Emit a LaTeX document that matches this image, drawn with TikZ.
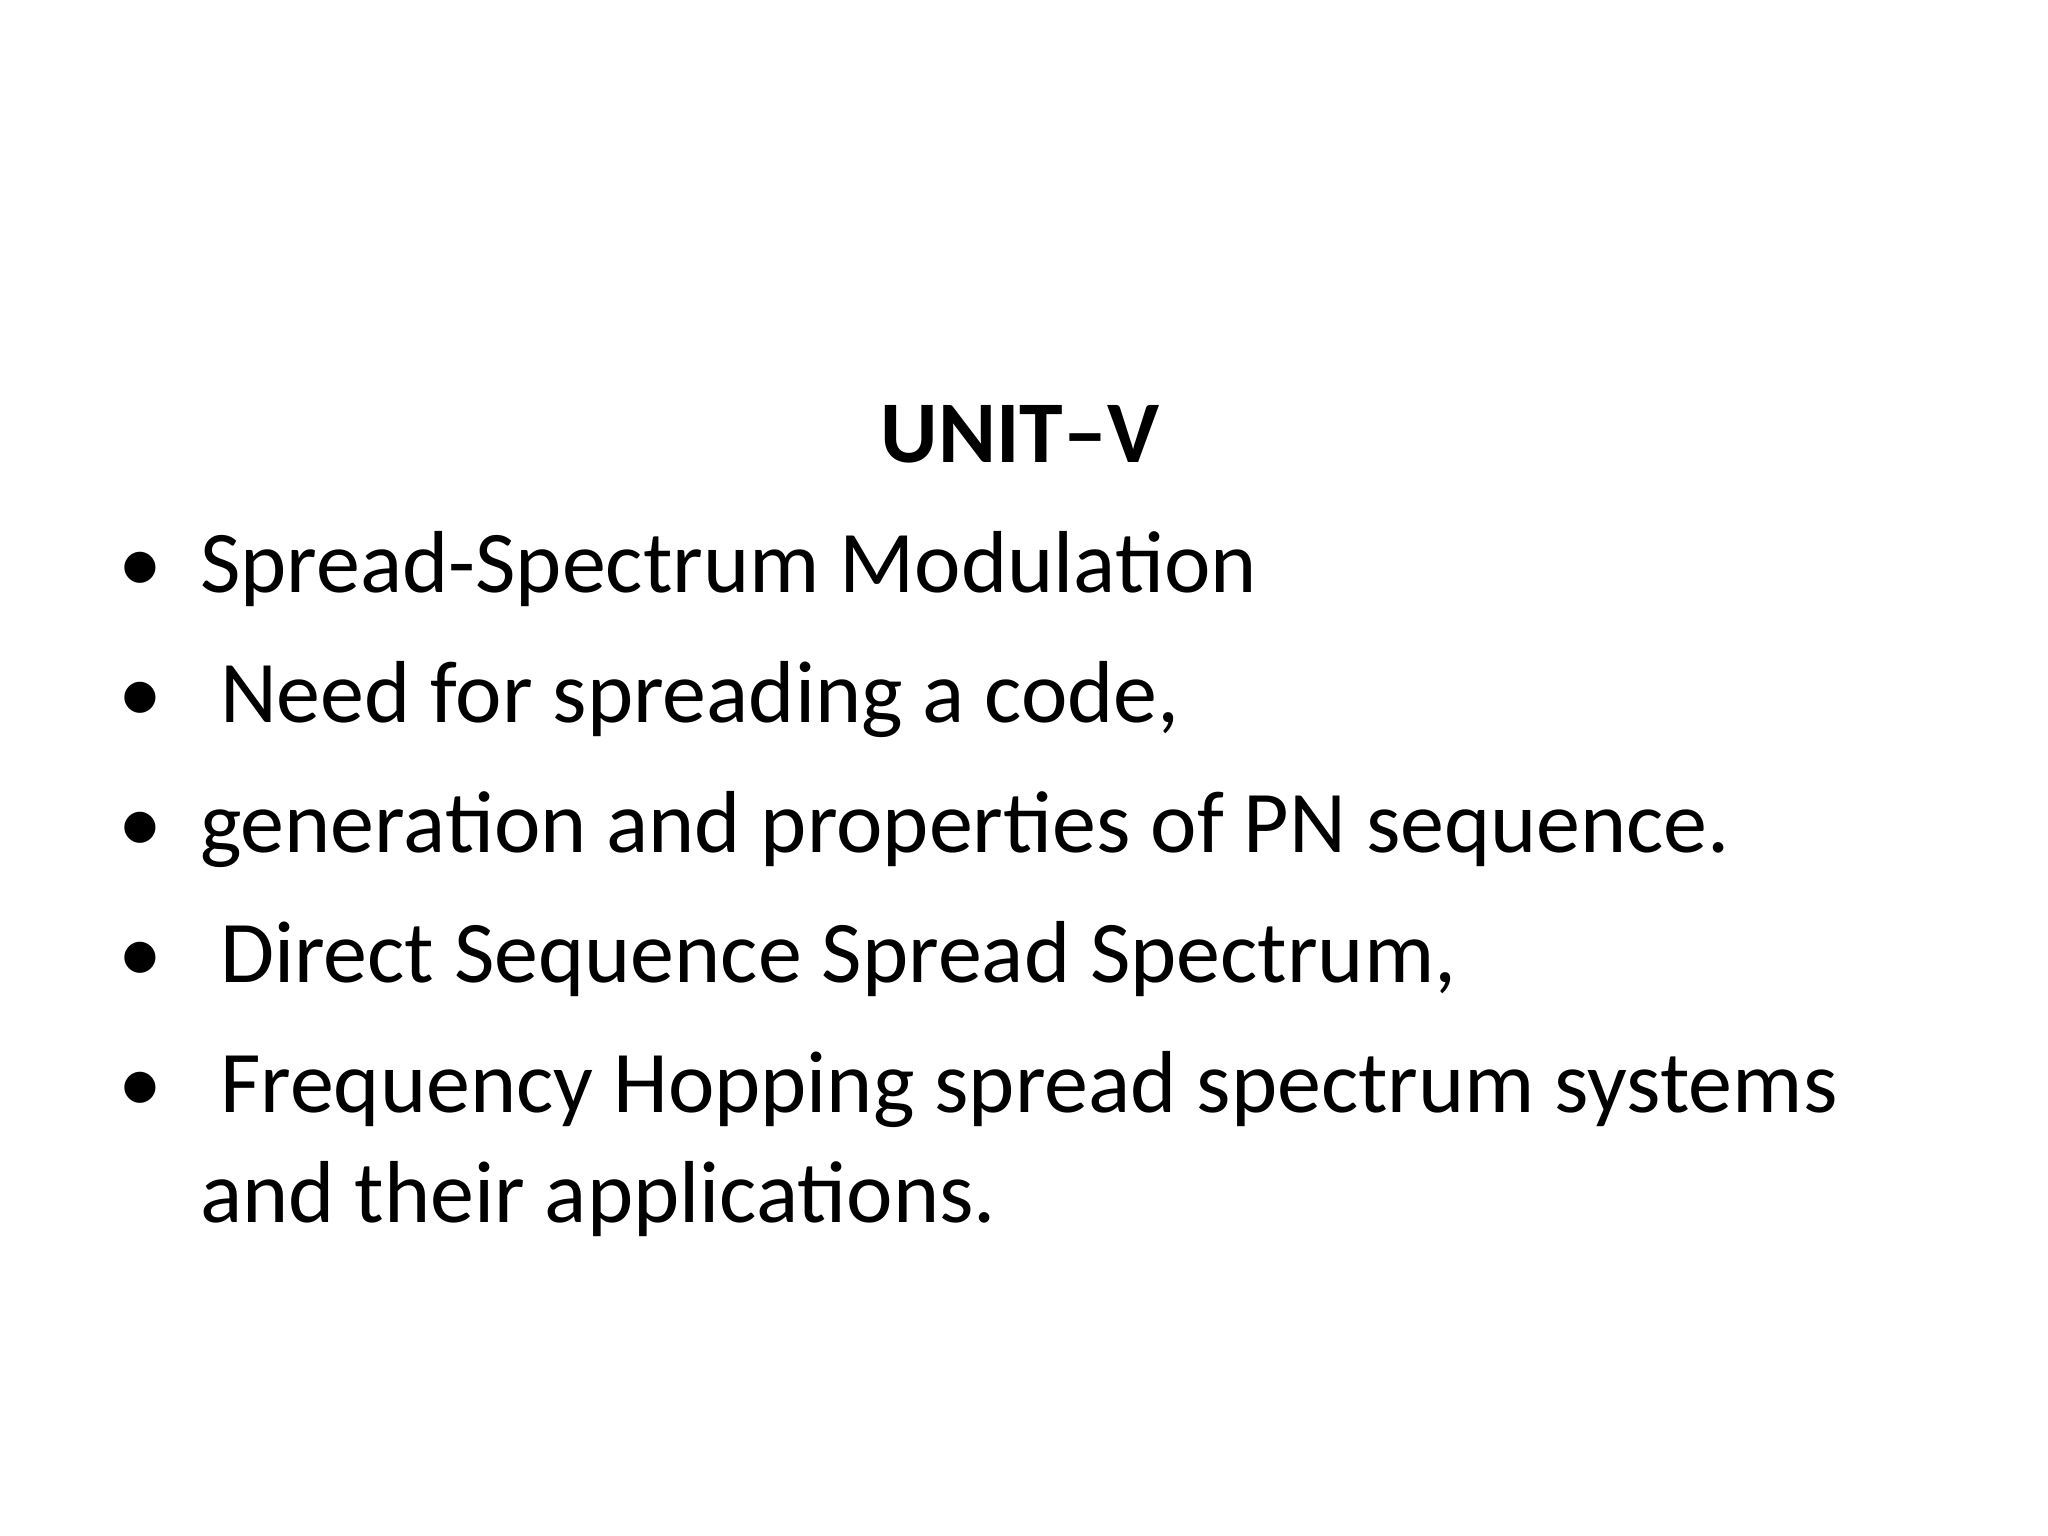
\documentclass[tikz,border=0pt]{standalone}
\usepackage{fontspec}
\setmainfont{Carlito}
\begin{document}
\begin{tikzpicture}[x=1pt,y=-1pt,
  line/.style={anchor=base west,inner sep=0pt,font=\fontsize{88}{106}\selectfont},
  bul/.style={anchor=base,inner sep=0pt,font=\fontsize{88}{106}\selectfont}]
\useasboundingbox[fill=white] (0,0) rectangle (2048,1536);
\node[anchor=base,inner sep=0pt,font=\fontsize{88}{106}\selectfont\bfseries] (title) at (1020,462) {UNIT–V};
\foreach \y/\n in {592/b1,722/b2,852/b3,982/b4,1112/b5}{
  \node[bul] (\n) at (140,\y) {•};
}
\node[line] (l1) at (200,592) {Spread-Spectrum Modulation};
\node[line] (l2) at (200,722) {\ Need for spreading a code,};
\node[line] (l3) at (200,852) {generation and properties of PN sequence.};
\node[line] (l4) at (200,982) {\ Direct Sequence Spread Spectrum,};
\node[line] (l5) at (200,1112) {\ Frequency Hopping spread spectrum systems};
\node[line] (l6) at (200,1222) {and their applications.};
\end{tikzpicture}
\end{document}
